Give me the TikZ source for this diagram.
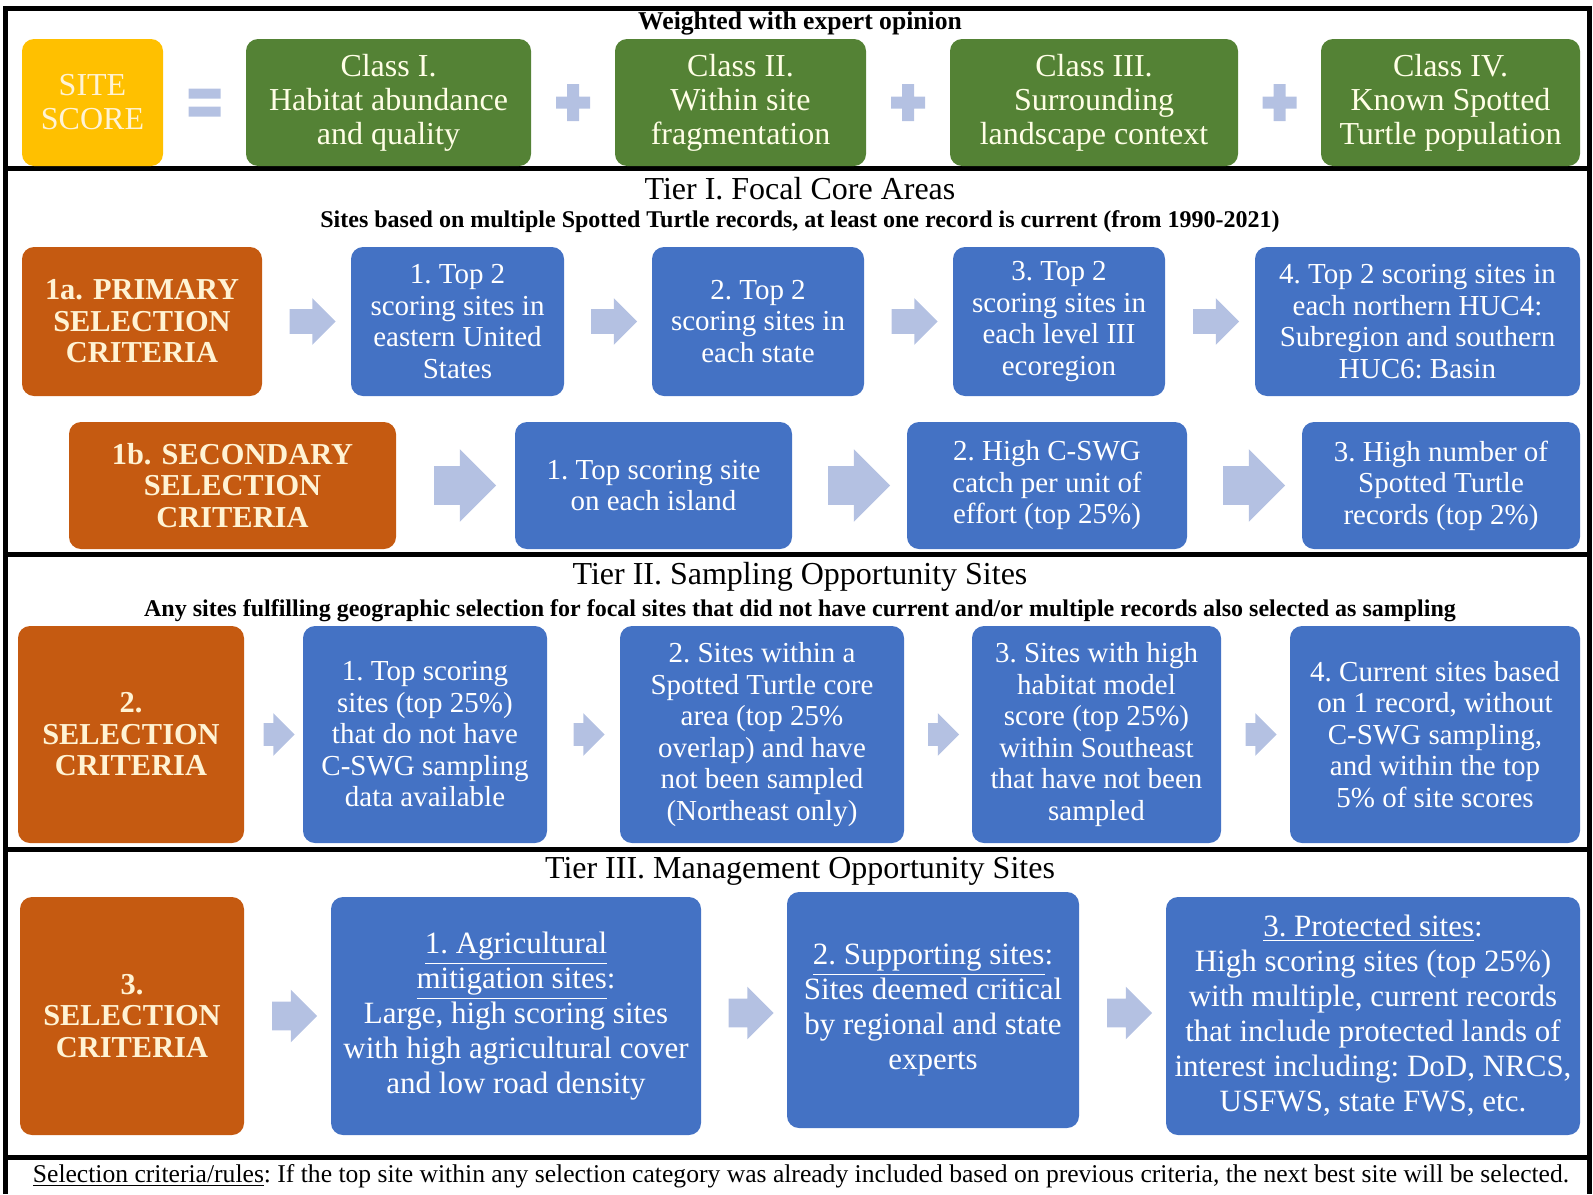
\documentclass[tikz,border=0pt]{standalone}
\usepackage{fontspec}
\setmainfont{Liberation Serif}
\usetikzlibrary{positioning,calc,shapes.arrows}
\definecolor{scorec}{HTML}{FFC000}
\definecolor{classc}{HTML}{548235}
\definecolor{critc}{HTML}{C55A11}
\definecolor{stepc}{HTML}{4472C4}
\definecolor{arrc}{HTML}{B4C1E2}
\definecolor{paletxt}{HTML}{FFF3D4}
\newcommand{\ul}[1]{\underline{#1}}

\tikzset{
  box/.style={rounded corners=6pt, inner sep=2pt, align=center, text=white},
  scorebox/.style={box, fill=scorec, text=paletxt, font=\fontsize{16}{17}\selectfont},
  classbox/.style={box, fill=classc, text=white!90!yellow, font=\fontsize{16}{17}\selectfont},
  critbox/.style={box, fill=critc, text=paletxt, font=\bfseries\fontsize{15.2}{15.75}\selectfont},
  stepbox/.style={box, fill=stepc, font=\frenchspacing\fontsize{14.5}{15.75}\selectfont},
  mgmtbox/.style={box, fill=stepc, font=\frenchspacing\fontsize{15.5}{17.5}\selectfont},
  blockarrow/.style n args={3}{single arrow, fill=arrc, inner xsep=0pt,
    inner ysep=#1, single arrow head extend=#2, minimum height=#3},
  tiertitle/.style={font=\frenchspacing\fontsize{16}{18}\selectfont},
  tiersub/.style={font=\bfseries\fontsize{12}{13}\selectfont},
  frame/.style={line width=2.5pt}
}

\begin{document}
\begin{tikzpicture}[x=0.5pt, y=-0.5pt]
\useasboundingbox (0,0) rectangle (1593,1194);
% frame and panel rules
\draw[frame] (5,1194) -- (5,8) -- (1589,8) -- (1589,1194);
\foreach \y in {168,554,849,1157}
  \draw[frame] (5,\y) -- (1589,\y);

% site score row
\node[font=\bfseries\fontsize{12.8}{14}\selectfont] (wt) at (800,23) {Weighted with expert opinion};
\node[scorebox, minimum width=70.5pt, minimum height=63.5pt] (score) at (92.5,102.5) {SITE\\SCORE};
\node[classbox, minimum width=142.5pt, minimum height=63.5pt] (c1) at (388.5,102.5) {Class I.\\Habitat abundance\\and quality};
\node[classbox, minimum width=125.5pt, minimum height=63.5pt] (c2) at (740.5,102.5) {Class II.\\Within site\\fragmentation};
\node[classbox, minimum width=144pt, minimum height=63.5pt] (c3) at (1094,102.5) {Class III.\\Surrounding\\landscape context};
\node[classbox, minimum width=129.5pt, minimum height=63.5pt] (c4) at (1450.5,102.5) {Class IV.\\Known Spotted\\Turtle population};
\coordinate (eq) at ($(score.east)!0.5!(c1.west)$);
\fill[arrc] ($(eq)+(-16,-14)$) rectangle ($(eq)+(16,-4)$)
            ($(eq)+(-16,4)$) rectangle ($(eq)+(16,14)$);
\foreach \a/\b in {c1/c2, c2/c3, c3/c4}{
  \coordinate (pl-\a) at ($(\a.east)!0.5!(\b.west)$);
  \fill[arrc] ($(pl-\a)+(-17,-6)$) rectangle ($(pl-\a)+(17,6)$)
              ($(pl-\a)+(-6,-18.5)$) rectangle ($(pl-\a)+(6,18.5)$);}

% tier I
\node[tiertitle] (t1) at (800,189) {Tier I. Focal Core Areas};
\node[tiersub] (s1) at (800,222) {Sites based on multiple Spotted Turtle records, at least one record is current (from 1990-2021)};
\node[critbox, minimum width=120pt, minimum height=74.5pt] (o1a) at (142,321.5) {1a. PRIMARY\\SELECTION\\CRITERIA};
\node[stepbox, minimum width=106.5pt, minimum height=74.5pt] (b11) at (457.5,321.5) {1. Top 2\\scoring sites in\\eastern United\\States};
\node[stepbox, minimum width=106pt, minimum height=74.5pt] (b12) at (758,321.5) {2. Top 2\\scoring sites in\\each state};
\node[stepbox, minimum width=106pt, minimum height=74.5pt] (b13) at (1059,321.5) {3. Top 2\\scoring sites in\\each level III\\ecoregion};
\node[stepbox, minimum width=162.5pt, minimum height=74.5pt] (b14) at (1417.5,321.5) {4. Top 2 scoring sites in\\each northern HUC4:\\Subregion and southern\\HUC6: Basin};
\foreach \a/\b in {o1a/b11, b11/b12, b12/b13, b13/b14}
  \node[blockarrow={6pt}{5.5pt}{23pt}] (ar-\a) at ($(\a.east)!0.5!(\b.west)$) {};

\node[critbox, minimum width=163.5pt, minimum height=63.5pt] (o1b) at (232.5,485.5) {1b. SECONDARY\\SELECTION\\CRITERIA};
\node[stepbox, minimum width=138.5pt, minimum height=63.5pt] (b21) at (653.5,485.5) {1. Top scoring site\\on each island};
\node[stepbox, minimum width=140pt, minimum height=63.5pt] (b22) at (1047,485.5) {2. High C-SWG\\catch per unit of\\effort (top 25\%)};
\node[stepbox, minimum width=139pt, minimum height=63.5pt] (b23) at (1441,485.5) {3. High number of\\Spotted Turtle\\records (top 2\%)};
\foreach \a/\b in {o1b/b21, b21/b22, b22/b23}
  \node[blockarrow={9.5pt}{8.5pt}{31pt}] (ar-\a) at ($(\a.east)!0.5!(\b.west)$) {};

% tier II
\node[tiertitle] (t2) at (800,577) {Tier II. Sampling Opportunity Sites};
\node[tiersub] (s2) at (800,611) {Any sites fulfilling geographic selection for focal sites that did not have current and/or multiple records also selected as sampling};
\node[critbox, minimum width=113pt, minimum height=108.5pt] (o2) at (131,734.5) {2.\\SELECTION\\CRITERIA};
\node[stepbox, minimum width=122pt, minimum height=108.5pt] (b31) at (425,734.5) {1. Top scoring\\sites (top 25\%)\\that do not have\\C-SWG sampling\\data available};
\node[stepbox, minimum width=142pt, minimum height=108.5pt] (b32) at (762,734.5) {2. Sites within a\\Spotted Turtle core\\area (top 25\%\\overlap) and have\\not been sampled\\(Northeast only)};
\node[stepbox, minimum width=124.5pt, minimum height=108.5pt] (b33) at (1096.5,734.5) {3. Sites with high\\habitat model\\score (top 25\%)\\within Southeast\\that have not been\\sampled};
\node[stepbox, minimum width=145pt, minimum height=108.5pt] (b34) at (1435,734.5) {4. Current sites based\\on 1 record, without\\C-SWG sampling,\\and within the top\\5\% of site scores};
\foreach \a/\b in {o2/b31, b31/b32, b32/b33, b33/b34}
  \node[blockarrow={5.5pt}{5pt}{15.5pt}] (ar-\a) at ($(\a.east)!0.5!(\b.west)$) {};

% tier III
\node[tiertitle] (t3) at (800,871) {Tier III. Management Opportunity Sites};
\node[critbox, minimum width=112pt, minimum height=119pt] (o3) at (132,1016) {3.\\SELECTION\\CRITERIA};
\node[mgmtbox, minimum width=185pt, minimum height=119pt] (b41) at (516,1016) {\ul{1. Agricultural}\\\ul{mitigation sites}:\\Large, high scoring sites\\with high agricultural cover\\and low road density};
\node[mgmtbox, minimum width=146pt, minimum height=118pt] (b42) at (933,1010) {\ul{2. Supporting sites}:\\Sites deemed critical\\by regional and state\\experts};
\node[mgmtbox, minimum width=207pt, minimum height=119pt] (b43) at (1373,1016) {\ul{3. Protected sites}:\\High scoring sites (top 25\%)\\with multiple, current records\\that include protected lands of\\interest including: DoD, NRCS,\\USFWS, state FWS, etc.};
\foreach \a/\b in {o3/b41, b41/b42, b42/b43}
  \node[blockarrow={7pt}{6pt}{22.5pt}] (ar-\a) at ($(\a.east)!0.5!(\b.west)$) {};

% rules footer
\node[font=\frenchspacing\fontsize{12.8}{14}\selectfont] (rules) at (801,1176) {\ul{Selection criteria/rules}: If the top site within any selection category was already included based on previous criteria, the next best site will be selected.};
\end{tikzpicture}
\end{document}
